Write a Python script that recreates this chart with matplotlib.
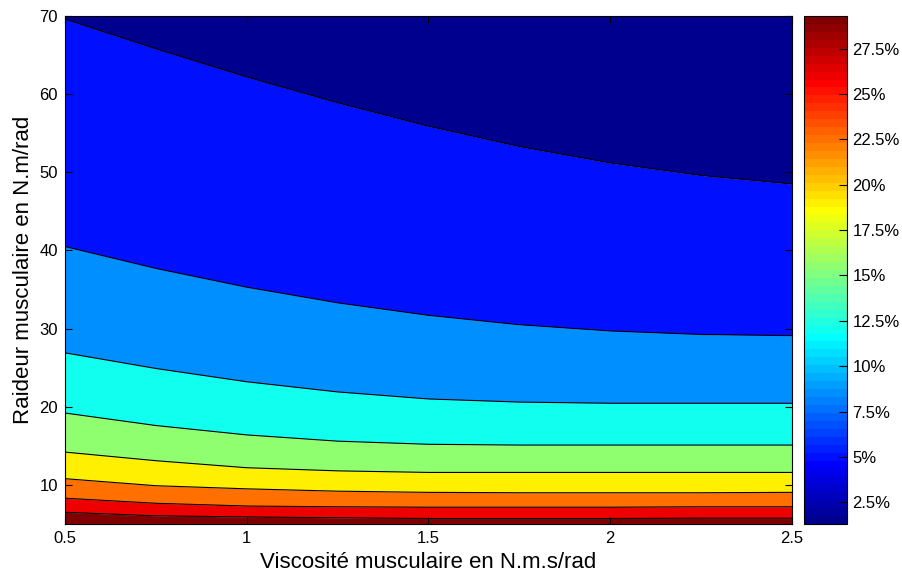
import numpy as np
import matplotlib
matplotlib.use('Agg')
from matplotlib import pyplot as plt
from matplotlib.colors import ListedColormap, Normalize
from matplotlib.cm import ScalarMappable

# muscle viscosity (N.m.s/rad) sampled along the x axis
viscosity = [0.5, 0.75, 1.0, 1.25, 1.5, 1.75, 2.0, 2.25, 2.5]
stiffness_min = 5
stiffness_max = 70

# contour levels (%) and the stiffness (N.m/rad) where each level is reached
contour_levels = [5.0, 8.5, 12.0, 15.5, 19.0, 22.5, 26.0, 29.2]
k_at_5 = [69.6, 65.8, 62.2, 58.9, 55.9, 53.3, 51.2, 49.6, 48.5]
k_at_8_5 = [40.5, 37.7, 35.3, 33.3, 31.7, 30.5, 29.7, 29.25, 29.1]
k_at_12 = [26.9, 24.9, 23.2, 21.9, 21.0, 20.6, 20.45, 20.45, 20.45]
k_at_15_5 = [19.2, 17.6, 16.4, 15.6, 15.2, 15.1, 15.1, 15.1, 15.1]
k_at_19 = [14.2, 13.1, 12.2, 11.8, 11.6, 11.6, 11.6, 11.6, 11.6]
k_at_22_5 = [10.8, 9.9, 9.5, 9.2, 9.05, 9.0, 9.0, 9.0, 9.05]
k_at_26 = [8.3, 7.65, 7.3, 7.2, 7.15, 7.15, 7.15, 7.2, 7.2]
k_at_29_2 = [6.5, 6.05, 5.9, 5.8, 5.7, 5.7, 5.7, 5.75, 5.75]
contour_lines = [k_at_5, k_at_8_5, k_at_12, k_at_15_5, k_at_19, k_at_22_5, k_at_26, k_at_29_2]

# colour scale range (%)
z_min = 1.3
z_max = 29.3
colorbar_ticks = [2.5, 5, 7.5, 10, 12.5, 15, 17.5, 20, 22.5, 25, 27.5]
x_ticks = [0.5, 1, 1.5, 2, 2.5]
y_ticks = [10, 20, 30, 40, 50, 60, 70]

plt.rcParams['font.family'] = ['Liberation Sans', 'DejaVu Sans']

# matlab style jet with 64 entries
idx = np.arange(1, 65)
red = np.clip(np.minimum((idx - 24) / 16, (72 - idx) / 16), 0, 1)
green = np.clip(np.minimum((idx - 8) / 16, (56 - idx) / 16), 0, 1)
blue = np.clip(np.minimum((idx + 8) / 16, (40 - idx) / 16), 0, 1)
jet64 = ListedColormap(np.column_stack([red, green, blue]))
norm = Normalize(z_min, z_max)

fig = plt.figure(figsize=(9.03, 5.74), dpi=100)
ax = fig.add_axes([0.072, 0.0871, 0.805, 0.885])

n = len(viscosity)
edges = [[stiffness_max] * n] + contour_lines + [[stiffness_min] * n]
band_values = [z_min] + contour_levels
for k in range(len(band_values)):
    ax.fill_between(viscosity, edges[k + 1], edges[k], color=jet64(norm(band_values[k])), linewidth=0)
for line in contour_lines:
    ax.plot(viscosity, line, color='black', linewidth=0.8)

ax.set_xlim(viscosity[0], viscosity[-1])
ax.set_ylim(stiffness_min, stiffness_max)
ax.set_xticks(x_ticks)
ax.set_xticklabels(['%g' % t for t in x_ticks])
ax.set_yticks(y_ticks)
ax.set_yticklabels(['%g' % t for t in y_ticks])
ax.tick_params(direction='in', top=True, right=True, length=5, width=0.8, labelsize=12, pad=5)
ax.set_xlabel('Viscosité musculaire en N.m.s/rad', fontsize=16, labelpad=4)
ax.set_ylabel('Raideur musculaire en N.m/rad', fontsize=16, labelpad=4)

cax = fig.add_axes([0.890, 0.0871, 0.0477, 0.885])
cb = fig.colorbar(ScalarMappable(norm=norm, cmap=jet64), cax=cax)
cb.set_ticks(colorbar_ticks)
cb.set_ticklabels(['%g%%' % t for t in colorbar_ticks])
cax.tick_params(direction='in', length=6, width=0.8, labelsize=12, pad=4)

fig.savefig('out.png', dpi=100)
